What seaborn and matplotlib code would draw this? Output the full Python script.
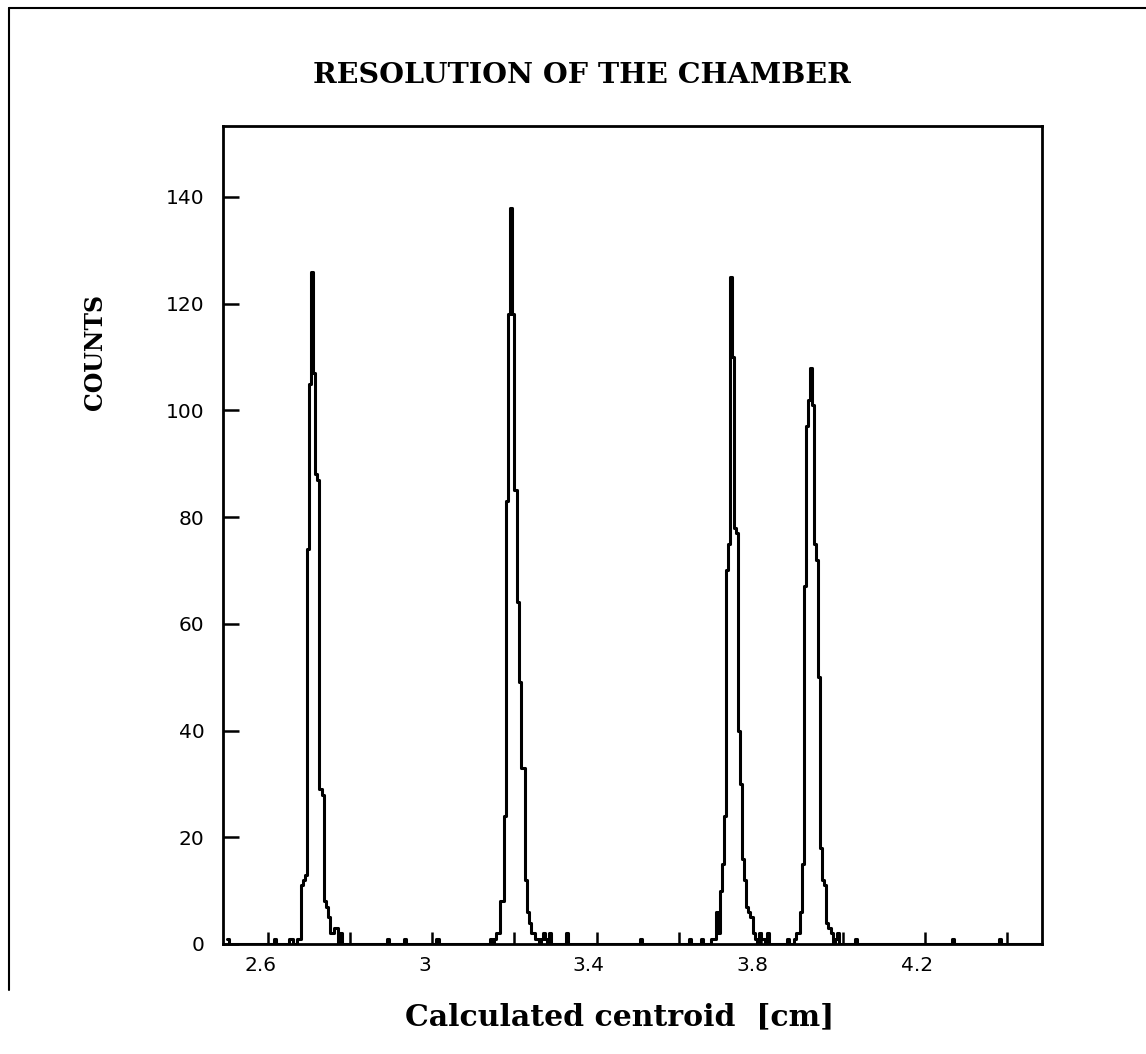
import matplotlib

matplotlib.use("Agg")
import matplotlib.pyplot as plt
import matplotlib.transforms as mtransforms
import numpy as np
import pandas as pd
import seaborn as sns

# histogram binning of the calculated centroid (cm)
bin_lo, bin_hi, bin_w = 2.5, 4.5, 0.005

# counts per bin for each peak, starting at the given bin index
peak1_start = 34
peak1_counts = [1, 1, 11, 12, 13, 74, 105, 126, 107, 88, 87, 29, 28, 8, 7, 5, 2, 2, 3, 3, 0, 2]
peak2_start = 128
peak2_counts = [1, 0, 1, 2, 2, 8, 8, 24, 83, 118, 138, 118, 85, 64, 49, 33, 33, 12, 6, 4,
                2, 2, 1, 1, 0, 1, 2, 1, 0, 2]
peak3_start = 236
peak3_counts = [1, 1, 6, 2, 10, 15, 24, 70, 75, 125, 110, 78, 77, 40, 30, 16, 12, 7, 6, 5,
                2, 1, 0, 2, 1, 1, 0, 2]
peak4_start = 276
peak4_counts = [1, 2, 2, 6, 15, 67, 97, 102, 108, 101, 75, 72, 50, 18, 12, 11, 4, 3, 2, 0, 1, 2]

# isolated single entries along the baseline
stray_bins = [0, 23, 30, 31, 78, 86, 102, 165, 201, 225, 231, 273, 306, 353, 376]
stray_counts = [1, 1, 1, 1, 1, 1, 1, 2, 1, 1, 1, 1, 1, 1, 1]

x_major = [2.6, 3.0, 3.4, 3.8, 4.2]
x_major_labels = ["2.6", "3", "3.4", "3.8", "4.2"]
x_minor = [2.8, 3.2, 3.6, 4.0, 4.4]
y_ticks = [0, 20, 40, 60, 80, 100, 120, 140]

n_bins = int(round((bin_hi - bin_lo) / bin_w))
counts = np.zeros(n_bins)
for start, vals in [
    (peak1_start, peak1_counts),
    (peak2_start, peak2_counts),
    (peak3_start, peak3_counts),
    (peak4_start, peak4_counts),
]:
    counts[start:start + len(vals)] = vals
counts[stray_bins] = stray_counts
hist_df = pd.DataFrame({
    "centroid": bin_lo + (np.arange(n_bins) + 0.5) * bin_w,
    "counts": counts,
})

sns.set_theme(style="ticks")
plt.rcParams["font.family"] = ["DejaVu Sans"]

fig = plt.figure(figsize=(11.46, 10.54), dpi=100)
ax = fig.add_axes([0.1946, 0.1044, 0.7146, 0.7761])

sns.histplot(
    data=hist_df, x="centroid", weights="counts", binwidth=bin_w,
    binrange=(bin_lo, bin_hi), element="step", fill=False, color="black",
    linewidth=2.2, ax=ax,
)

ax.set_xlim(2.49, 4.485)
ax.set_ylim(0, 153.3)
ax.set_xlabel("")
ax.set_ylabel("")

for side in ["left", "right", "top", "bottom"]:
    ax.spines[side].set_visible(True)
    ax.spines[side].set_linewidth(2.0)
    ax.spines[side].set_color("black")

ax.set_xticks(x_major)
ax.set_xticklabels(x_major_labels)
ax.set_xticks(x_minor, minor=True)
ax.set_yticks(y_ticks)
ax.tick_params(axis="x", which="both", direction="in", length=8.6, width=1.8,
               pad=9, labelsize=14.5, colors="black", top=False)
ax.tick_params(axis="y", direction="in", length=11.5, width=1.8,
               pad=13.5, labelsize=14.5, colors="black", right=False)

# the x tick labels sit a little left of their ticks
shift = mtransforms.ScaledTranslation(-8 / 100, 0, fig.dpi_scale_trans)
for lab in ax.get_xticklabels():
    lab.set_transform(lab.get_transform() + shift)

serif = {"family": "DejaVu Serif", "weight": "bold", "color": "black"}
fig.text(0.508, 0.928, "RESOLUTION OF THE CHAMBER", ha="center", va="center",
         fontsize=20.5, **serif)
fig.text(0.541, 0.035, "Calculated centroid  [cm]", ha="center", va="center",
         fontsize=21.5, **serif)
fig.text(0.083, 0.666, "COUNTS", ha="center", va="center", rotation=90,
         fontsize=17, **serif)

# outer frame of the page (top and left edges only)
fig.add_artist(plt.Line2D([0.0079, 1.0], [0.9924, 0.9924], color="black", lw=1.5,
                          transform=fig.transFigure))
fig.add_artist(plt.Line2D([0.0079, 0.0079], [0.9924, 0.0607], color="black", lw=1.5,
                          transform=fig.transFigure))

fig.savefig("out.png", dpi=100, facecolor="white")
